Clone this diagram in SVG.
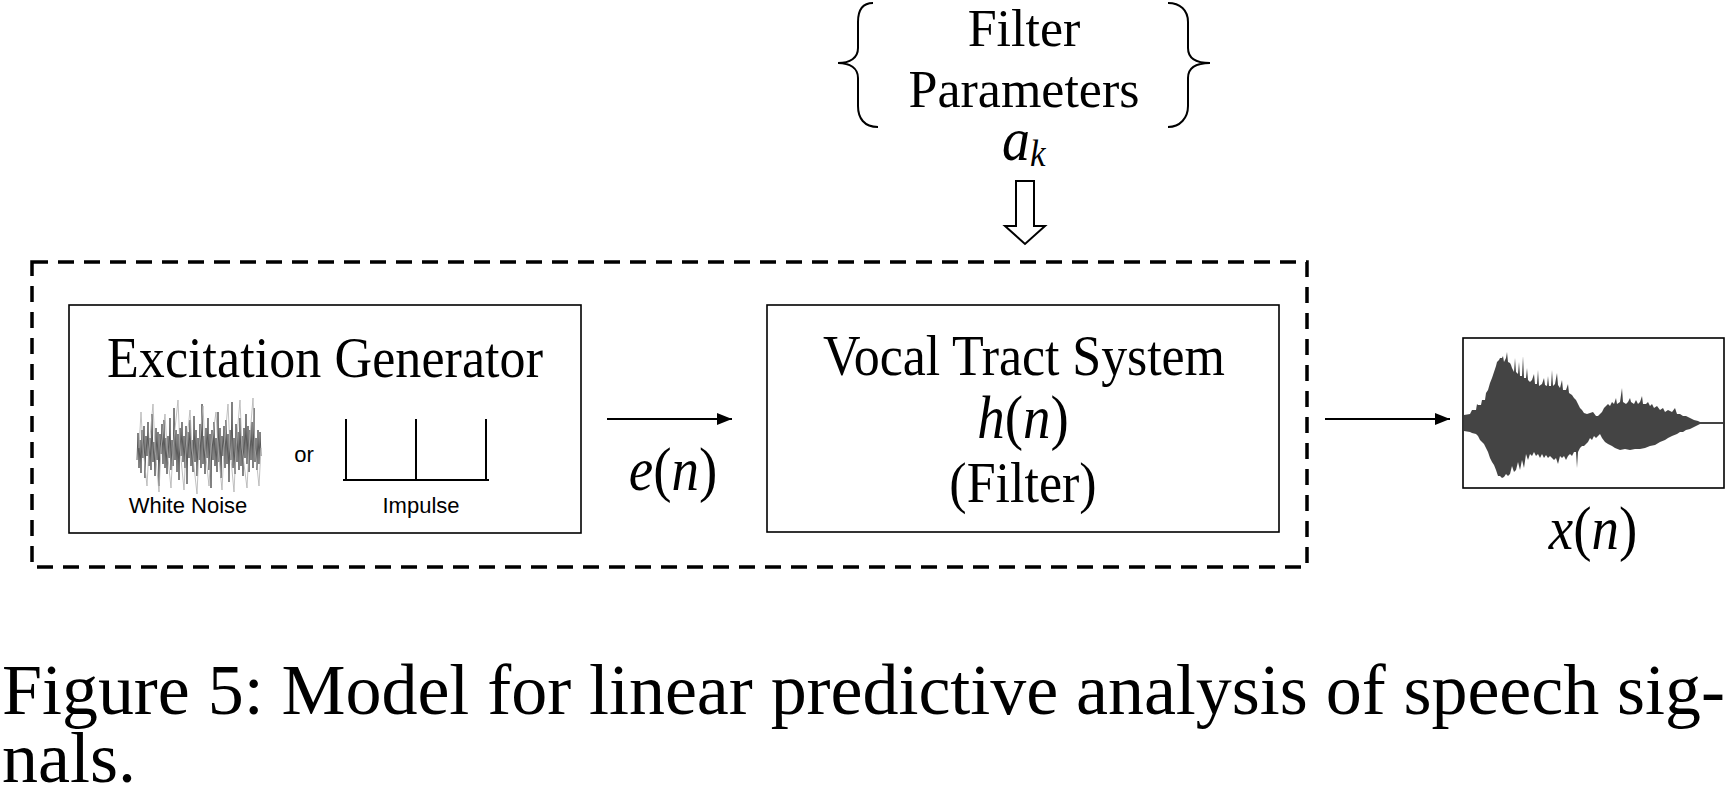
<svg xmlns="http://www.w3.org/2000/svg" width="1728" height="798" viewBox="0 0 1728 798">
<style>
.serif{font-family:"Liberation Serif","Times New Roman",serif;fill:#000}
.lbl{font-size:52px;text-anchor:middle}
.math{font-size:55px;text-anchor:middle}
.it{font-style:italic}
.sans{font-family:"Liberation Sans",Arial,sans-serif;font-size:22px;fill:#000;text-anchor:middle}
.box{fill:#fff;stroke:#000;stroke-width:1.6}
.conn{fill:none;stroke:#000;stroke-width:2}
.cap{font-family:"Liberation Serif","Times New Roman",serif;font-size:72px;fill:#000}
</style>
<defs>
<marker id="ah" markerUnits="userSpaceOnUse" markerWidth="16" markerHeight="12" refX="15" refY="6" orient="auto">
<path d="M0,0 L15,6 L0,12 Z" fill="#000"/>
</marker>
</defs>
<rect width="1728" height="798" fill="#fff"/>

<g id="filter-params">
<path class="conn" d="M873,3 C863,3 858,10 858,22 L858,48 C858,58 850,63 838,63 C850,63 858,68 858,78 L858,106 C858,118 864,127 878,127"/>
<path class="conn" d="M1168,3 C1180,3 1188,10 1188,22 L1188,48 C1188,58 1196,63 1210,63 C1196,63 1188,68 1188,78 L1188,106 C1188,118 1180,127 1168,127"/>
<text class="serif lbl" x="1024" y="46">Filter</text>
<text class="serif lbl" x="1024" y="107">Parameters</text>
<g transform="translate(0,160) scale(1,1.1)"><text class="serif it" x="1002" y="0" font-size="56">a<tspan font-size="35" dy="5">k</tspan></text></g>
</g>

<g id="dashed-boundary">
<path d="M32,262 H1307 V567 H32 Z" fill="none" stroke="#000" stroke-width="3.5" stroke-dasharray="16 10"/>
</g>

<g id="excitation-generator">
<rect class="box" x="69" y="305" width="512" height="228"/>
<g transform="translate(0,377) scale(1,1.1)"><text class="serif lbl" x="325" y="0" textLength="436">Excitation Generator</text></g>
<polyline fill="none" stroke="#5a5a5a" stroke-width="1" points="137,460 138,433 139,468 140,440 141,473 142,430 143,458 144,426 145,478 146,436 147,456 148,422 149,466 150,438 151,470 152,414 153,462 154,442 155,476 156,428 157,460 158,432 159,486 160,434 161,454 162,424 163,464 164,420 165,468 166,438 167,474 168,436 169,458 170,418 171,470 172,440 173,466 174,408 175,460 176,430 177,472 178,434 179,480 180,428 181,456 182,422 183,462 184,436 185,468 186,426 187,484 188,432 189,458 190,420 191,466 192,440 193,472 194,416 195,462 196,430 197,476 198,438 199,460 200,424 201,468 202,404 203,464 204,436 205,474 206,428 207,458 208,418 209,470 210,434 211,488 212,430 213,460 214,422 215,466 216,438 217,472 218,412 219,462 220,428 221,478 222,436 223,456 224,426 225,468 226,420 227,464 228,434 229,482 230,430 231,460 232,402 233,468 234,438 235,474 236,424 237,462 238,432 239,470 240,418 241,466 242,436 243,476 244,428 245,458 246,414 247,464 248,426 249,472 250,430 251,460 252,422 253,468 254,408 255,462 256,438 257,470 258,430 259,464 260,432 261,456"/>
<polyline fill="none" stroke="#b0b0b0" stroke-width="0.8" points="139,448 141,412 143,448 147,486 149,448 153,404 155,448 159,492 161,448 165,414 167,448 171,488 173,448 178,400 180,448 184,490 186,448 190,410 192,448 197,494 199,448 203,406 205,448 209,486 211,448 216,412 218,448 222,490 224,448 228,404 230,448 234,492 236,448 240,400 242,448 247,488 249,448 253,398 255,448 259,486 261,448"/>
<text class="sans" x="188" y="513">White Noise</text>
<text class="sans" x="304" y="462">or</text>
<path class="conn" d="M343,480 H489 M346,480 V419 M416,480 V419 M486,480 V419"/>
<text class="sans" x="421" y="513">Impulse</text>
</g>

<g id="vocal-tract">
<rect class="box" x="767" y="305" width="512" height="227"/>
<g transform="translate(0,375) scale(1,1.1)"><text class="serif lbl" x="1024" y="0" textLength="402">Vocal Tract System</text></g>
<g transform="translate(0,438) scale(1,1.12)"><text class="serif math" x="1023" y="0"><tspan class="it">h</tspan>(<tspan class="it">n</tspan>)</text></g>
<g transform="translate(0,502) scale(1,1.1)"><text class="serif lbl" x="1023" y="0">(Filter)</text></g>
</g>

<g id="output-signal">
<rect class="box" x="1463" y="338" width="261" height="150"/>
<path fill="#444" d="M1464,415 L1470,414 1472,410 1476,410 1477,404 1478,405 1481,405 1482,400 1485,400 1486,393 1488,390 1490,383 1492,378 1494,372 1496,366 1497,362 1499,360 1500,358 1502,358 1503,356 1504,362 1506,358 1507,352 1508,362 1510,363 1511,365 1512,368 1513,370 1514,372 1515,358 1516,372 1518,374 1519,362 1520,376 1522,376 1523,356 1524,378 1526,378 1527,368 1528,380 1530,382 1532,380 1534,374 1535,384 1537,384 1538,370 1539,386 1542,384 1544,378 1545,385 1547,386 1548,376 1549,386 1551,386 1552,370 1553,386 1555,384 1557,373 1558,385 1560,388 1562,380 1563,390 1566,390 1568,384 1569,393 1572,395 1574,398 1576,400 1578,404 1580,408 1582,410 1584,413 1587,414 1590,413 1593,412 1596,416 1598,416 1600,414 1602,412 1604,408 1606,406 1608,404 1610,406 1612,402 1614,404 1616,398 1617,404 1620,402 1622,388 1623,402 1626,404 1628,402 1630,398 1631,402 1634,404 1636,400 1638,404 1640,402 1642,396 1643,404 1646,404 1648,402 1650,406 1652,404 1654,408 1657,406 1660,410 1663,408 1665,412 1668,410 1672,412 1675,408 1677,414 1680,414 1683,416 1686,416 1690,418 1694,420 1698,421 1700,422 1723,422 1723,424 1700,424 1698,425 1694,427 1690,429 1686,430 1683,432 1680,432 1677,434 1672,436 1668,438 1665,440 1660,442 1655,445 1650,446 1645,448 1640,449 1635,449 1630,450 1625,449 1620,450 1615,448 1612,446 1608,444 1605,442 1602,438 1600,434 1598,436 1596,438 1594,436 1592,440 1590,438 1588,442 1586,444 1584,446 1582,446 1580,448 1578,452 1577,468 1576,452 1574,452 1572,456 1570,454 1568,456 1566,460 1564,456 1562,458 1560,456 1558,464 1556,458 1554,460 1552,458 1550,456 1548,458 1546,455 1544,458 1542,454 1540,458 1538,454 1536,456 1534,452 1532,456 1530,454 1528,460 1526,454 1524,468 1522,460 1520,470 1518,462 1516,470 1514,472 1512,466 1510,474 1508,476 1506,474 1504,477 1502,478 1500,476 1498,476 1496,470 1494,465 1492,462 1490,458 1488,452 1486,448 1484,444 1482,442 1480,440 1478,436 1476,434 1472,433 1470,432 1464,431 Z"/>
<g transform="translate(0,549) scale(1,1.12)"><text class="serif math" x="1593" y="0"><tspan class="it">x</tspan>(<tspan class="it">n</tspan>)</text></g>
</g>

<g id="connectors">
<path d="M1016,181 H1034 V226 H1045 L1025,244 L1005,226 H1016 Z" fill="#fff" stroke="#000" stroke-width="2"/>
<line class="conn" x1="607" y1="419" x2="732" y2="419" marker-end="url(#ah)"/>
<g transform="translate(0,490) scale(1,1.12)"><text class="serif math" x="673" y="0"><tspan class="it">e</tspan>(<tspan class="it">n</tspan>)</text></g>
<line class="conn" x1="1325" y1="419" x2="1450" y2="419" marker-end="url(#ah)"/>
</g>

<g id="caption">
<text class="cap" x="2" y="714" textLength="1723">Figure 5: Model for linear predictive analysis of speech sig-</text>
<text class="cap" x="2" y="782">nals.</text>
</g>
</svg>
